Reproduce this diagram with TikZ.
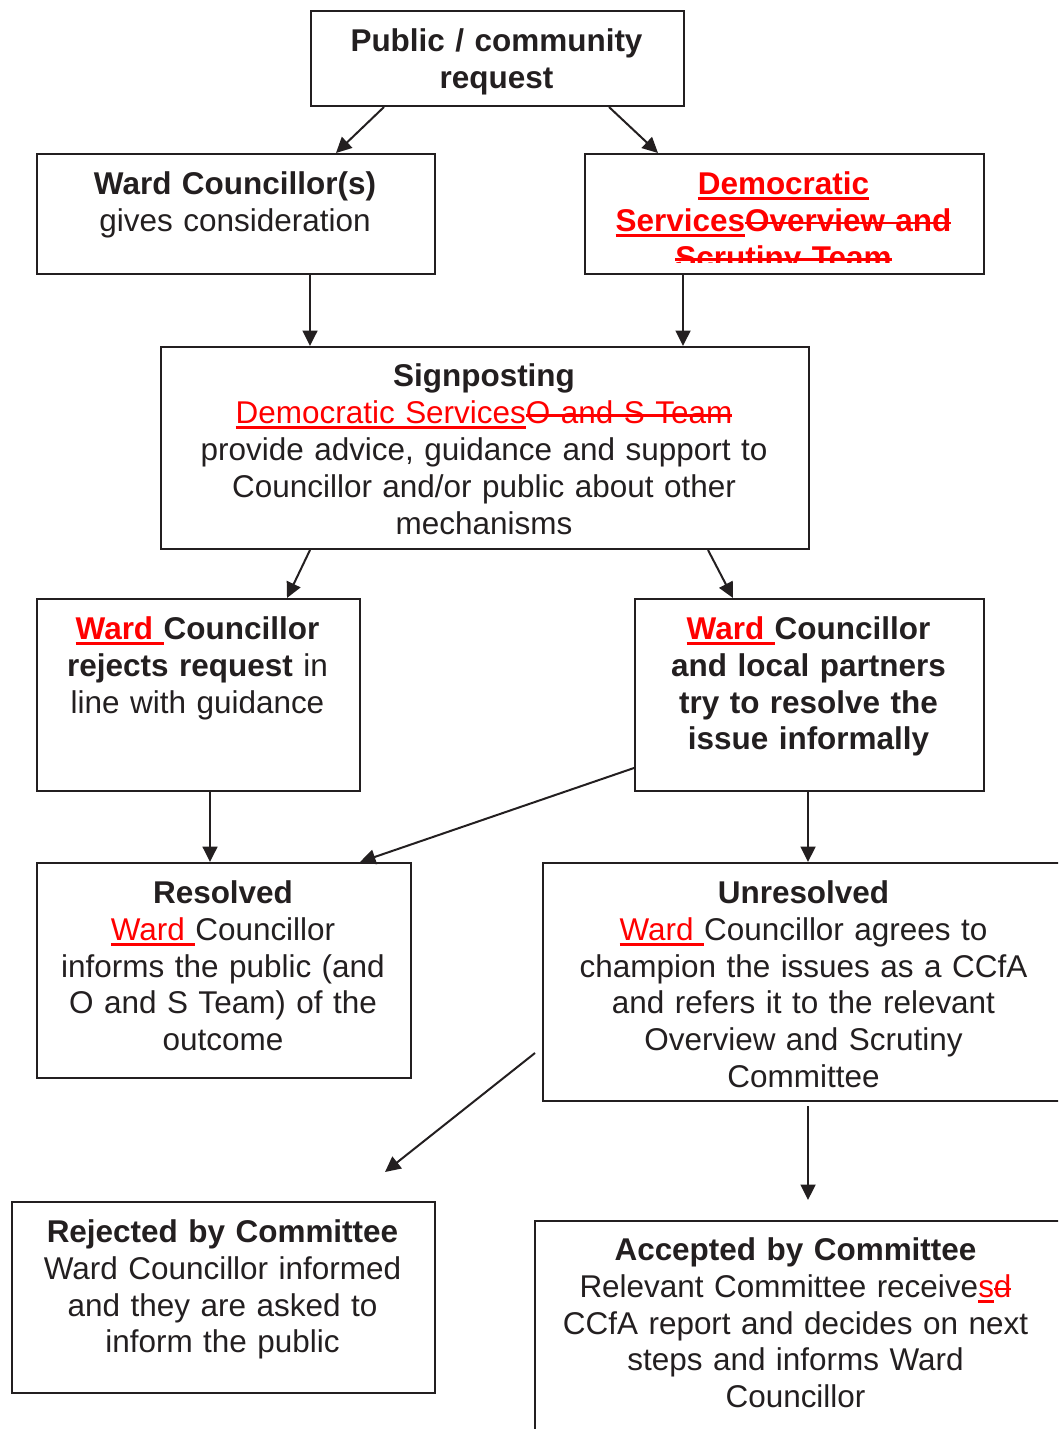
\documentclass[tikz,border=0pt]{standalone}
\usepackage{fontspec}
\setmainfont{Liberation Sans}
\usetikzlibrary{arrows.meta,calc}
\definecolor{ink}{RGB}{35,31,32}
\definecolor{rev}{RGB}{255,0,0}
\newcommand{\insr}[1]{\leavevmode{\color{rev}\setbox0=\hbox{#1}\rlap{\rule[-2.1pt]{\wd0}{1.2pt}}\box0}}
\newcommand{\delr}[1]{\leavevmode{\color{rev}\setbox0=\hbox{#1}\rlap{\rule[2.7pt]{\wd0}{0.9pt}}\box0}}
\tikzset{
  x=0.375pt, y=-0.375pt,
  box/.style={draw=ink, line width=0.75pt, anchor=north west, inner sep=0pt, fill=none},
  txt/.style={anchor=base, inner sep=0pt, align=center, text width=230pt, text=ink,
    font=\fontsize{11.8pt}{13.8pt}\selectfont},
  conn/.style={draw=ink, line width=0.75pt, -{Triangle[length=5.8pt,width=5.6pt]}}
}
\begin{document}
\begin{tikzpicture}
\useasboundingbox (0,0) rectangle (1058,1429);
\clip (0,0) rectangle (1058,1429);
% boxes
\node[box, minimum width=373*0.375pt, minimum height=95*0.375pt] (pub) at (310,10) {};
\node[box, minimum width=398*0.375pt, minimum height=120*0.375pt] (ward) at (36,153) {};
\node[box, minimum width=399*0.375pt, minimum height=120*0.375pt] (dem) at (584,153) {};
\node[box, minimum width=648*0.375pt, minimum height=202*0.375pt] (sign) at (160,346) {};
\node[box, minimum width=323*0.375pt, minimum height=192*0.375pt] (rej) at (36,598) {};
\node[box, minimum width=349*0.375pt, minimum height=192*0.375pt] (loc) at (634,598) {};
\node[box, minimum width=374*0.375pt, minimum height=215*0.375pt] (res) at (36,862) {};
\node[box, minimum width=530*0.375pt, minimum height=238*0.375pt] (unres) at (542,862) {};
\node[box, minimum width=534*0.375pt, minimum height=240*0.375pt] (acc) at (534,1220) {};
\node[box, minimum width=423*0.375pt, minimum height=191*0.375pt] (rejc) at (11,1201) {};
% texts
\node[txt] (pubt) at ($(pub.north west)+(186.5,41.5)$) {\bfseries Public / community\\request};
\node[txt] (wardt) at ($(ward.north west)+(199,41.5)$) {\textbf{Ward Councillor(s)}\\gives consideration};
\begin{scope}
\clip (584,153) rectangle (983,263);
\node[txt] (demt) at ($(dem.north west)+(199.5,41.5)$) {\bfseries\insr{Democratic}\\\insr{Services}\delr{Overview and}\\\delr{Scrutiny Team}};
\end{scope}
\node[txt] (signt) at ($(sign.north west)+(324,41)$) {\textbf{Signposting}\\\insr{Democratic Services}\delr{O and S Team}\\provide advice, guidance and support to\\Councillor and/or public about other\\mechanisms};
\node[txt] (rejt) at ($(rej.north west)+(161.5,41.5)$) {\textbf{\insr{Ward\ }Councillor}\\\textbf{rejects request} in\\line with guidance};
\node[txt] (loct) at ($(loc.north west)+(174.5,41.5)$) {\bfseries\insr{Ward\ }Councillor\\and local partners\\try to resolve the\\issue informally};
\node[txt] (rest) at ($(res.north west)+(187,41.5)$) {\textbf{Resolved}\\\insr{Ward\ }Councillor\\informs the public (and\\O and S Team) of the\\outcome};
\node[txt] (unrest) at ($(unres.north west)+(261.5,41.5)$) {\textbf{Unresolved}\\\insr{Ward\ }Councillor agrees to\\champion the issues as a CCfA\\and refers it to the relevant\\Overview and Scrutiny\\Committee};
\node[txt] (rejct) at ($(rejc.north west)+(211.5,41.5)$) {\textbf{Rejected by Committee}\\Ward Councillor informed\\and they are asked to\\inform the public};
\node[txt] (acct) at ($(acc.north west)+(261.5,40.5)$) {\textbf{Accepted by Committee}\\Relevant Committee receive\insr{s}\delr{d}\\CCfA report and decides on next\\steps and informs Ward\\Councillor};
% free arrow ends
\coordinate (u1) at ($(unres.north west)+(-7,191)$);
\coordinate (rc1) at ($(rejc.north west)+(374,-29)$);
\coordinate (u2) at ($(unres.south west)+(266,4)$);
\coordinate (ac1) at ($(acc.north west)+(274,-20)$);
% connectors
\draw[conn] ($(pub.south west)+(74,0)$) -- ($(ward.north west)+(300,0)$);
\draw[conn] ($(pub.south west)+(299,0)$) -- ($(dem.north west)+(74,0)$);
\draw[conn] ($(ward.south west)+(274,0)$) -- ($(sign.north west)+(150,0)$);
\draw[conn] ($(dem.south west)+(99,0)$) -- ($(sign.north west)+(523,0)$);
\draw[conn] ($(sign.south west)+(150,0)$) -- ($(rej.north west)+(251,0)$);
\draw[conn] ($(sign.south west)+(548,0)$) -- ($(loc.north west)+(99,0)$);
\draw[conn] ($(rej.south west)+(174,0)$) -- ($(res.north west)+(174,0)$);
\draw[conn] ($(loc.south west)+(0,-24)$) -- ($(res.north west)+(324,0)$);
\draw[conn] ($(loc.south west)+(174,0)$) -- ($(unres.north west)+(266,0)$);
\draw[conn] (u1) -- (rc1);
\draw[conn] (u2) -- (ac1);
\end{tikzpicture}
\end{document}
